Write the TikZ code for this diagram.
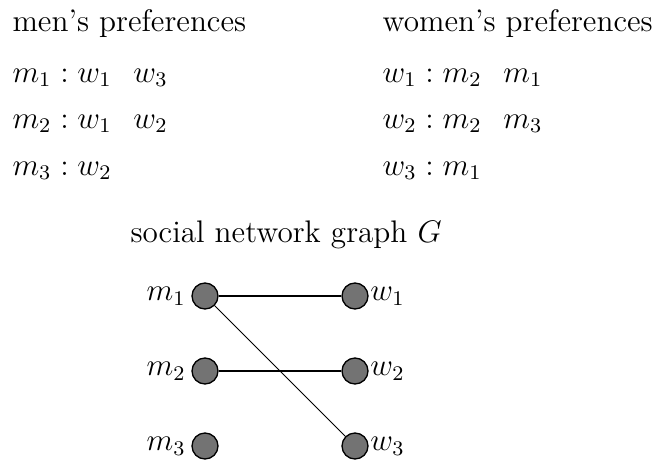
\documentclass[12pt,tikz,border=0pt]{standalone}
\usetikzlibrary{positioning}

\tikzset{
  person/.style={circle, draw=black, fill=black!55, line width=0.5pt, minimum size=10pt, inner sep=0pt},
  pref/.style={anchor=base west, inner sep=0pt},
  edge/.style={line width=0.4pt}
}
\newcommand{\gapp}{\hspace{0.7em}}

\begin{document}
\begin{tikzpicture}[x=0.3846pt, y=-0.3846pt]
\path[use as bounding box] (0,0) rectangle (658,462);
% preference lists
\node[pref] (mhead) at (12,32) {men's preferences};
\node[pref] (mpref1) at (12,82) {$m_1 : w_1 \gapp w_3$};
\node[pref] (mpref2) at (12,128) {$m_2 : w_1 \gapp w_2$};
\node[pref] (mpref3) at (12,175) {$m_3 : w_2$};
\node[pref] (whead) at (382,32) {women's preferences};
\node[pref] (wpref1) at (382,82) {$w_1 : m_2 \gapp m_1$};
\node[pref] (wpref2) at (382,128) {$w_2 : m_2 \gapp m_3$};
\node[pref] (wpref3) at (382,175) {$w_3 : m_1$};
% graph
\node[pref] (title) at (130,242) {social network graph $G$};
\node[person, label={[inner sep=2pt]left:$m_1$}] (m1) at (205,296) {};
\node[person, label={[inner sep=2pt]left:$m_2$}] (m2) at (205,371) {};
\node[person, label={[inner sep=2pt]left:$m_3$}] (m3) at (205,446) {};
\node[person, label={[inner sep=0.5pt]right:$w_1$}] (w1) at (355,296) {};
\node[person, label={[inner sep=0.5pt]right:$w_2$}] (w2) at (355,371) {};
\node[person, label={[inner sep=0.5pt]right:$w_3$}] (w3) at (355,446) {};
\draw[edge] (m1) -- (w1);
\draw[edge] (m1) -- (w3);
\draw[edge] (m2) -- (w2);
\end{tikzpicture}
\end{document}
